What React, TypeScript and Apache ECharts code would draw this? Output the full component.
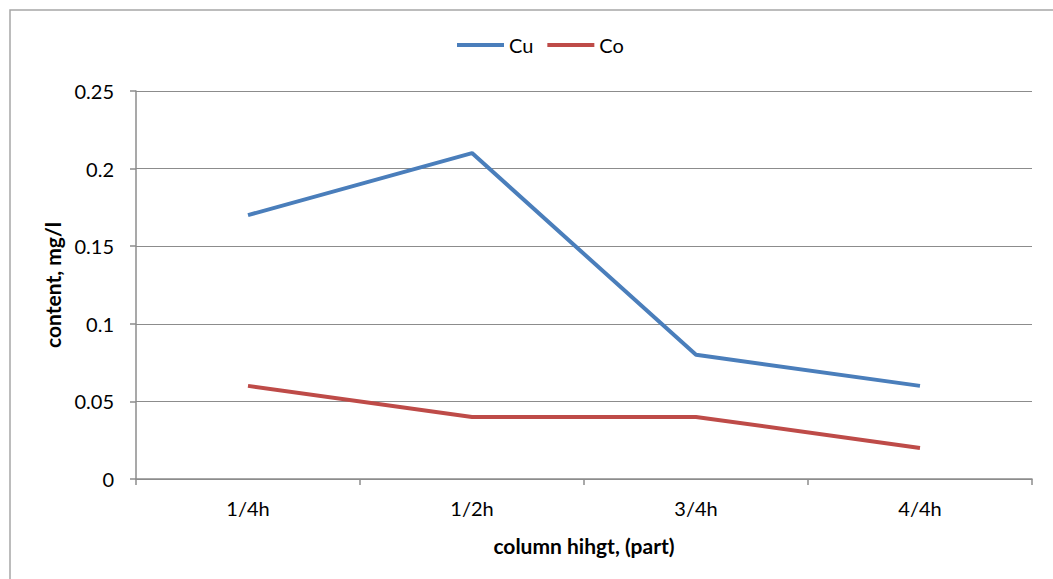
import React, { useEffect, useRef } from "react";
import * as echarts from "echarts";

const categories = ["1/4h", "1/2h", "3/4h", "4/4h"];
const cuValues = [0.17, 0.21, 0.08, 0.06];
const coValues = [0.06, 0.04, 0.04, 0.02];
const yTicks = { min: 0, max: 0.25, interval: 0.05 };

const FONT = "Lato, 'Open Sans', sans-serif";

export default function App() {
  const ref = useRef<HTMLDivElement>(null);
  useEffect(() => {
    if (!ref.current) return;
    const chart = echarts.init(ref.current, undefined, { renderer: "svg" });
    chart.setOption({
      animation: false,
      backgroundColor: "#ffffff",
      graphic: [
        {
          type: "rect",
          shape: { x: 10, y: 10, width: 1100, height: 700 },
          style: { fill: "none", stroke: "#a6a6a6", lineWidth: 1.5 },
          silent: true,
        },
      ],
      legend: {
        top: 30,
        left: 452,
        icon: "rect",
        itemWidth: 47,
        itemHeight: 4,
        itemGap: 14,
        textStyle: { fontFamily: FONT, fontSize: 20, color: "#000" },
        data: ["Cu", "Co"],
      },
      grid: { left: 136, top: 91, right: 21, bottom: 100, containLabel: false },
      xAxis: {
        type: "category",
        data: categories,
        boundaryGap: true,
        axisLine: { lineStyle: { color: "#8c8c8c", width: 1.5 } },
        axisTick: { show: true, length: 6, lineStyle: { color: "#8c8c8c", width: 1.5 } },
        axisLabel: { fontFamily: FONT, fontSize: 20, color: "#000", margin: 19 },
        name: "column hihgt, (part)",
        nameLocation: "middle",
        nameGap: 56,
        nameTextStyle: { fontFamily: FONT, fontSize: 21, fontWeight: "bold", color: "#000" },
      },
      yAxis: {
        type: "value",
        min: yTicks.min,
        max: yTicks.max,
        interval: yTicks.interval,
        axisLine: { show: true, lineStyle: { color: "#8c8c8c", width: 1.5 } },
        axisTick: { show: true, length: 6, lineStyle: { color: "#8c8c8c", width: 1.5 } },
        splitLine: { show: true, lineStyle: { color: "#8c8c8c", width: 1.2 } },
        axisLabel: {
          fontFamily: FONT,
          fontSize: 20,
          color: "#000",
          margin: 22,
          formatter: (v: number) => String(parseFloat(v.toFixed(2))),
        },
        name: "content, mg/l",
        nameLocation: "middle",
        nameGap: 73,
        nameTextStyle: { fontFamily: FONT, fontSize: 21, fontWeight: "bold", color: "#000" },
      },
      series: [
        {
          name: "Cu",
          type: "line",
          data: cuValues,
          showSymbol: false,
          symbol: "none",
          lineStyle: { color: "#4a7ebb", width: 4 },
          itemStyle: { color: "#4a7ebb" },
        },
        {
          name: "Co",
          type: "line",
          data: coValues,
          showSymbol: false,
          symbol: "none",
          lineStyle: { color: "#be4b48", width: 4 },
          itemStyle: { color: "#be4b48" },
        },
      ],
    });
    return () => chart.dispose();
  }, []);
  return (
    <div
      ref={ref}
      style={{ position: "absolute", left: 0, top: 0, width: 1053, height: 579 }}
    />
  );
}
